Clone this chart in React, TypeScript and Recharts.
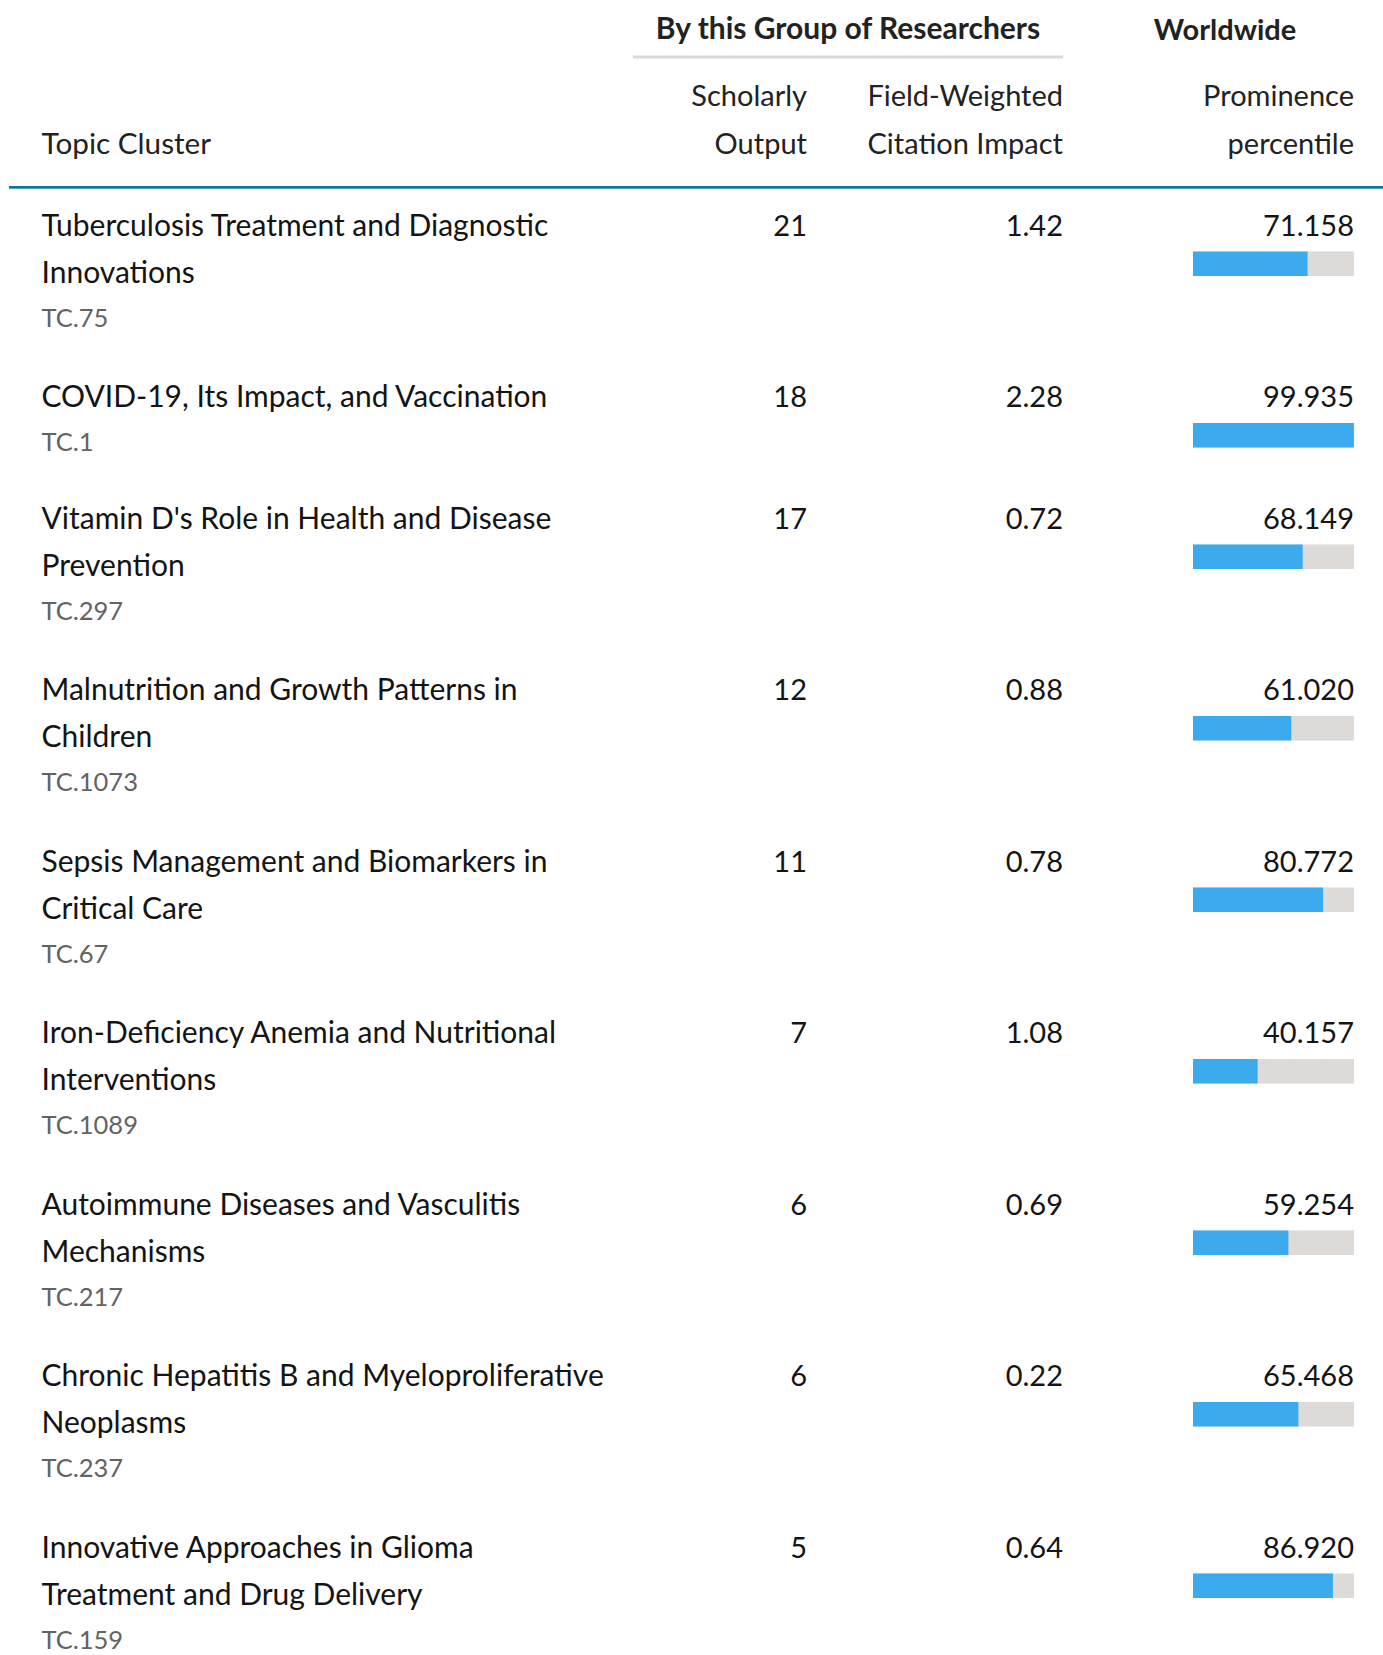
import React from 'react';
import { ComposedChart, Bar, XAxis, YAxis, Customized } from 'recharts';

// ---------- data ----------
const topicLines: string[][] = [
  ['Tuberculosis Treatment and Diagnostic', 'Innovations'],
  ['COVID-19, Its Impact, and Vaccination'],
  ["Vitamin D's Role in Health and Disease", 'Prevention'],
  ['Malnutrition and Growth Patterns in', 'Children'],
  ['Sepsis Management and Biomarkers in', 'Critical Care'],
  ['Iron-Deficiency Anemia and Nutritional', 'Interventions'],
  ['Autoimmune Diseases and Vasculitis', 'Mechanisms'],
  ['Chronic Hepatitis B and Myeloproliferative', 'Neoplasms'],
  ['Innovative Approaches in Glioma', 'Treatment and Drug Delivery'],
];
const topicCodes: string[] = ['TC.75', 'TC.1', 'TC.297', 'TC.1073', 'TC.67', 'TC.1089', 'TC.217', 'TC.237', 'TC.159'];
const scholarlyOutput: number[] = [21, 18, 17, 12, 11, 7, 6, 6, 5];
const fwci: number[] = [1.42, 2.28, 0.72, 0.88, 0.78, 1.08, 0.69, 0.22, 0.64];
const prominence: number[] = [71.158, 99.935, 68.149, 61.02, 80.772, 40.157, 59.254, 65.468, 86.92];

// ---------- layout ----------
const W = 1383;
const H = 1655;
const FONT = "Lato, 'Noto Sans', sans-serif";
const FS = 29;
const FS_TITLE = 30;
const LINE = 47;
const FIRST_CENTER = 264.25;
const ROW_2 = 171.5;
const ROW_1 = 121.5;
const BAR_LEFT = 1193;
const BAR_RIGHT = 1354;
const COL_SO = 807;
const COL_FW = 1063;
const TITLE_X = 41.5;

const centers: number[] = [];
topicLines.reduce((acc, lines) => {
  centers.push(acc);
  return acc + (lines.length > 1 ? ROW_2 : ROW_1);
}, FIRST_CENTER);

const data = topicLines.map((lines, i) => ({
  lines,
  code: topicCodes[i],
  so: scholarlyOutput[i],
  fw: fwci[i],
  prominence: prominence[i],
  center: centers[i],
}));

function RowShape(props: any) {
  const { x, y, width, height, payload } = props;
  const base = y + height / 2 - 28.25;
  const lines: string[] = payload.lines;
  return (
    <g>
      <rect x={x} y={y} width={Math.max(0, width)} height={height} fill="#3babee" />
      {lines.map((l, i) => (
        <text key={i} x={TITLE_X} y={base + i * LINE} fontFamily={FONT} fontSize={FS_TITLE} fill="#141414">
          {l}
        </text>
      ))}
      <text x={TITLE_X} y={base + (lines.length - 1) * LINE + 44} fontFamily={FONT} fontSize={25.5} fill="#636363">
        {payload.code}
      </text>
      <text x={COL_SO} y={base} textAnchor="end" fontFamily={FONT} fontSize={FS} fill="#141414">
        {payload.so}
      </text>
      <text x={COL_FW} y={base} textAnchor="end" fontFamily={FONT} fontSize={FS} fill="#141414">
        {payload.fw.toFixed(2)}
      </text>
      <text x={BAR_RIGHT} y={base} textAnchor="end" fontFamily={FONT} fontSize={FS} fill="#141414">
        {payload.prominence.toFixed(3)}
      </text>
    </g>
  );
}

function Header() {
  const t = { fontFamily: FONT, fontSize: FS, fill: '#222222' } as const;
  return (
    <g>
      <text x={848} y={39} textAnchor="middle" {...t} fontSize={30} fontWeight={700}>By this Group of Researchers</text>
      <text x={1225} y={40} textAnchor="middle" {...t} fontWeight={700}>Worldwide</text>
      <rect x={633} y={55.5} width={430} height={3} fill="#d9d9d9" />
      <text x={TITLE_X} y={154} {...t} fontSize={29.7}>Topic Cluster</text>
      <text x={COL_SO} y={106} textAnchor="end" {...t}>Scholarly</text>
      <text x={COL_SO} y={154} textAnchor="end" {...t}>Output</text>
      <text x={COL_FW} y={106} textAnchor="end" {...t}>Field-Weighted</text>
      <text x={COL_FW} y={154} textAnchor="end" {...t}>Citation Impact</text>
      <text x={BAR_RIGHT} y={106} textAnchor="end" {...t}>Prominence</text>
      <text x={BAR_RIGHT} y={154} textAnchor="end" {...t}>percentile</text>
      <rect x={9} y={186} width={W - 9} height={2.7} fill="#08769c" />
    </g>
  );
}

export default function App() {
  return (
    <div style={{ width: W, height: H, background: '#ffffff' }}>
      <style>{'body{margin:0;background:#fff}'}</style>
      <ComposedChart
        layout="vertical"
        width={W}
        height={H}
        data={data}
        margin={{ top: 0, bottom: 0, left: BAR_LEFT, right: W - BAR_RIGHT }}
      >
        <XAxis type="number" dataKey="prominence" domain={[0, 100]} ticks={[0, 100]} hide />
        <YAxis type="number" dataKey="center" domain={[0, H]} ticks={[0, H]} hide />
        <Customized component={Header} />
        <Bar
          dataKey="prominence"
          barSize={24.5}
          fill="#3babee"
          background={{ fill: '#dedad7' }}
          shape={RowShape}
          isAnimationActive={false}
        />
      </ComposedChart>
    </div>
  );
}
